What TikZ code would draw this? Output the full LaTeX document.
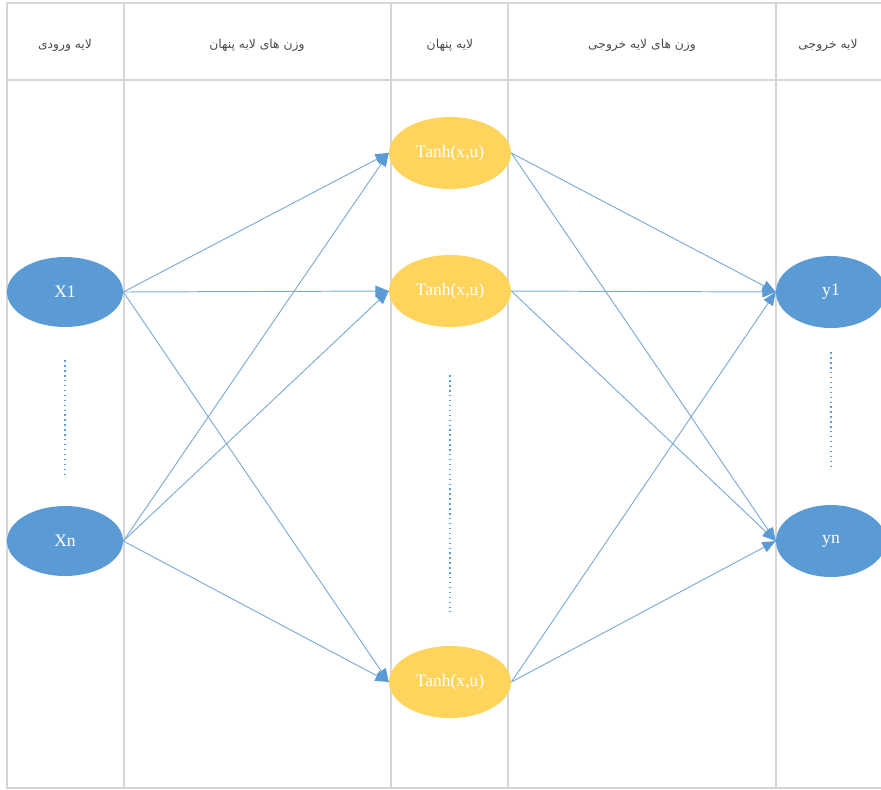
\documentclass[tikz,border=0pt]{standalone}
\usepackage{fontspec}
\setmainfont{Liberation Serif}
\newfontfamily\farsi[Script=Arabic]{DejaVu Sans}
\TeXXeTstate=1
\usepackage{tikz}
\usetikzlibrary{arrows}
\usetikzlibrary{decorations.markings}
\usetikzlibrary{shapes.geometric}
\definecolor{nodeblue}{RGB}{91,155,213}
\definecolor{nodegold}{RGB}{255,212,92}
\definecolor{wireblue}{RGB}{125,172,216}
\definecolor{gridgray}{RGB}{214,214,214}
\tikzset{wire/.style = {draw=wireblue, line width=0.55pt,
                        decoration={markings,
                                    mark=at position 1 with {\arrow[nodeblue,scale=1.1]{triangle 45}}},
                        postaction={decorate}},
         unit/.style = {ellipse, fill=#1, text=white, inner sep=0pt,
                        font=\fontsize{10}{11}\selectfont},
         head/.style = {font=\fontsize{7}{8}\farsi, text=black!70},
         dots/.style = {draw=nodeblue, dotted, line width=0.8pt},
         grid/.style = {draw=gridgray, line width=1.1pt}}

\begin{document}
\begin{tikzpicture}[x=0.02cm, y=-0.02cm]
      \useasboundingbox (0, 0) rectangle (881, 789);
      \clip (0, 0) rectangle (881, 789);

      % table
      \draw [grid] (881, 3) -- (7, 3) -- (7, 788) -- (881, 788);
      \draw [grid] (7, 80) -- (881, 80);
      \draw [grid] (124, 3) -- (124, 788);
      \draw [grid] (391, 3) -- (391, 788);
      \draw [grid] (508, 3) -- (508, 788);
      \draw [grid] (776, 3) -- (776, 788);

      \node [head] (t1) at (65, 45) {\beginR لایه ورودی\endR};
      \node [head] (t2) at (257, 45) {\beginR وزن های لایه پنهان\endR};
      \node [head] (t3) at (450, 45) {\beginR لایه پنهان\endR};
      \node [head] (t4) at (642, 45) {\beginR وزن های لایه خروجی\endR};
      \node [head] (t5) at (828, 45) {\beginR لایه خروجی\endR};

      % units
      \node [unit=nodeblue, minimum width=2.32cm, minimum height=1.4cm] (x1) at (65, 292) {X1};
      \node [unit=nodeblue, minimum width=2.32cm, minimum height=1.4cm] (xn) at (65, 541) {Xn};
      \node [unit=nodegold, minimum width=2.44cm, minimum height=1.44cm] (h1) at (450, 153) {Tanh(x,u)};
      \node [unit=nodegold, minimum width=2.44cm, minimum height=1.44cm] (h2) at (450, 291) {Tanh(x,u)};
      \node [unit=nodegold, minimum width=2.44cm, minimum height=1.44cm] (h3) at (450, 682) {Tanh(x,u)};
      \node [unit=nodeblue, minimum width=2.2cm, minimum height=1.44cm] (y1) at (831, 292) {y1};
      \node [unit=nodeblue, minimum width=2.2cm, minimum height=1.44cm] (yn) at (831, 541) {yn};

      \draw [dots] ([yshift=-0.66cm]x1.south) -- ([yshift=0.56cm]xn.north);
      \draw [dots] ([yshift=-0.96cm]h2.south) -- ([yshift=0.68cm]h3.north);
      \draw [dots] ([yshift=-0.48cm]y1.south) -- ([yshift=0.7cm]yn.north);

      % hidden weights
      \draw [wire] (x1.east) -- (h1.west);
      \draw [wire] (x1.east) -- (h2.west);
      \draw [wire] (x1.east) -- (h3.west);
      \draw [wire] (xn.east) -- (h1.west);
      \draw [wire] (xn.east) -- (h2.west);
      \draw [wire] (xn.east) -- (h3.west);

      % output weights
      \draw [wire] (h1.east) -- (y1.west);
      \draw [wire] (h1.east) -- (yn.west);
      \draw [wire] (h2.east) -- (y1.west);
      \draw [wire] (h2.east) -- (yn.west);
      \draw [wire] (h3.east) -- (y1.west);
      \draw [wire] (h3.east) -- (yn.west);
    \end{tikzpicture}
\end{document}
